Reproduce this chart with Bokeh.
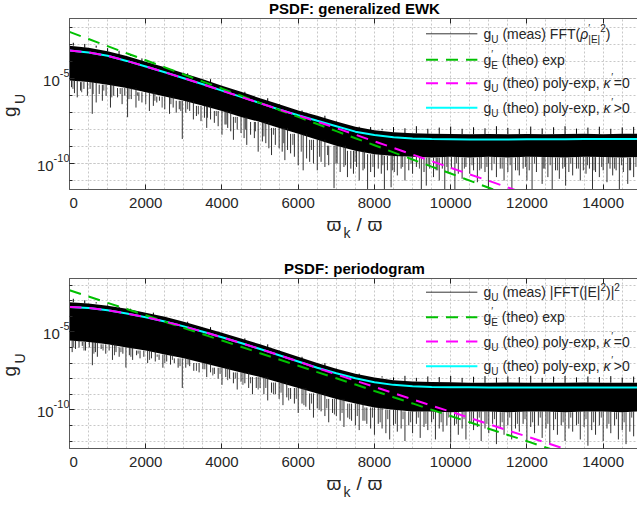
import math
from bokeh.plotting import figure
from bokeh.models import Range1d, LinearAxis, FixedTicker, Label, CustomJSTickFormatter
from bokeh.layouts import column, row
from bokeh.embed import file_html
from bokeh.resources import INLINE

FONT = "Liberation Sans"
INK = "#262626"

# ---------------- data (log10 of g) ----------------
x_ticks = [0, 2000, 4000, 6000, 8000, 10000, 12000, 14000]
curve_x = [i * 500 for i in range(31)]

# top panel: generalized EWK
top_cyan = [-3.33, -3.45, -3.65, -3.95, -4.28, -4.62, -4.97, -5.33, -5.7, -6.07, -6.44, -6.81, -7.15,
            -7.48, -7.8, -8.12, -8.32, -8.45, -8.52, -8.56, -8.57, -8.58, -8.58, -8.58, -8.57, -8.57,
            -8.57, -8.56, -8.56, -8.56, -8.55]
top_magenta = [-3.33, -3.45, -3.65, -3.95, -4.28, -4.62, -4.97, -5.33, -5.7, -6.07, -6.44, -6.81, -7.17,
               -7.53, -7.91, -8.3, -8.69, -9.08, -9.47, -9.86, -10.25, -10.64, -11.02, -11.41, -11.8]
top_green = [-2.24, -2.66, -3.08, -3.5, -3.91, -4.33, -4.75, -5.17, -5.58, -6.0, -6.42, -6.84, -7.25,
             -7.67, -8.09, -8.51, -8.92, -9.34, -9.76, -10.18, -10.59, -11.01, -11.43, -11.85]
top_band_hi = [-3.05, -3.17, -3.38, -3.66, -4.0, -4.32, -4.68, -5.03, -5.42, -5.77, -6.15, -6.5, -6.87,
               -7.18, -7.52, -7.83, -8.04, -8.16, -8.22, -8.25, -8.26, -8.27, -8.26, -8.28, -8.26, -8.27,
               -8.26, -8.25, -8.27, -8.25, -8.25]
top_band_lo = [-5.1, -5.2, -5.35, -5.55, -5.8, -6.05, -6.3, -6.6, -6.9, -7.25, -7.55, -7.9, -8.25,
               -8.6, -8.95, -9.25, -9.45, -9.55, -9.6, -9.65, -9.6, -9.65, -9.6, -9.65, -9.6, -9.62,
               -9.65, -9.6, -9.62, -9.65, -9.6]
top_drop_x = [53, 130, 203, 290, 378, 470, 540, 597, 700, 780, 862, 960,
              1075, 1160, 1260, 1380, 1450, 1524, 1620, 1744, 1820, 1900,
              2096, 2200, 2290, 2360, 2500, 2624, 2720, 2800, 2880, 2959,
              3050, 3153, 3250, 3330, 3450, 3540, 3600, 3700, 3800, 3900,
              4000, 4080, 4150, 4230, 4300, 4400, 4500, 4580, 4650, 4750, 4850, 4950,
              5060, 5150, 5230, 5300, 5400, 5500, 5580, 5650, 5720, 5800, 5900, 6000,
              6130, 6220, 6300, 6400, 6500, 6600, 6700, 6800, 6940,
              7020, 7100, 7200, 7292, 7380, 7450, 7530, 7600, 7700, 7820, 7900,
              8000, 8100, 8180, 8261, 8340, 8437, 8520, 8600, 8700, 8800, 8900,
              9000, 9100, 9230, 9300, 9360, 9450, 9550, 9620, 9700, 9780, 9845, 9930,
              10020, 10110, 10200, 10300, 10400, 10500, 10600, 10700, 10800, 10900, 10990,
              11080, 11200, 11300, 11400, 11500, 11606, 11700, 11800, 11900,
              12000, 12060, 12135, 12250, 12399, 12470, 12550, 12663, 12750, 12850, 12940,
              13016, 13100, 13200, 13300, 13400, 13480, 13550, 13640, 13720, 13800, 13900,
              14000, 14100, 14180, 14250, 14340, 14425, 14530, 14645, 14720, 14800]
top_drop_lo = [-5.5, -5.85, -6.1, -5.7, -5.6, -6.0, -5.6, -7.07, -6.4, -5.9, -6.3, -6.0,
               -6.7, -6.0, -6.1, -6.5, -6.0, -7.27, -6.2, -6.7, -6.3, -6.4,
               -6.9, -6.6, -6.4, -6.3, -6.8, -7.07, -6.7, -7.0, -6.8, -8.55,
               -7.0, -6.9, -7.4, -7.2, -7.5, -7.3, -7.9, -7.4, -7.6, -7.8,
               -8.3, -7.7, -7.9, -8.1, -8.6, -8.0, -8.2, -8.5, -8.9, -8.3, -8.5, -9.3,
               -8.7, -8.8, -9.1, -9.5, -8.9, -9.1, -9.3, -9.8, -9.2, -9.4, -9.6, -10.1,
               -10.4, -9.7, -9.9, -10.0, -10.4, -9.9, -10.2, -10.1, -11.45,
               -10.0, -10.5, -10.2, -10.8, -10.3, -10.6, -10.2, -11.0, -10.4, -11.5, -10.5,
               -10.8, -10.3, -10.6, -11.5, -10.4, -11.4, -10.5, -10.7, -10.3, -11.0, -10.4,
               -10.6, -10.2, -11.5, -10.5, -11.3, -10.3, -10.8, -10.4, -11.0, -10.3, -11.5, -10.5,
               -10.3, -11.5, -10.6, -10.9, -10.2, -10.6, -10.4, -11.1, -10.3, -10.5, -11.5,
               -10.4, -10.8, -10.3, -11.0, -10.5, -11.5, -10.4, -10.7, -10.3,
               -11.0, -10.4, -11.5, -10.5, -11.2, -10.3, -10.8, -11.5, -10.4, -10.9, -10.3,
               -11.3, -10.5, -10.7, -10.3, -11.0, -10.4, -10.6, -10.3, -11.5, -10.5, -10.8,
               -10.4, -11.1, -10.3, -10.7, -10.4, -11.5, -10.5, -11.2, -10.4, -10.8]
top_dip_x = [90, 320, 620, 900, 1110, 1330, 1560, 1780, 2000, 2240, 2430, 2660, 2920, 3100, 3380,
             3620, 3850, 4110, 4350, 4620, 4880, 5100, 5350, 5620, 5860, 6080, 6350, 6560, 6770,
             6990, 7240, 7490, 7740, 7960, 8220, 8470, 8740, 8960, 9180, 9410, 9660, 9900, 10150,
             10360, 10560, 10760, 10950, 11140, 11350, 11560, 11760, 11960, 12200, 12430, 12610,
             12800, 12990, 13150, 13350, 13590, 13760, 13960, 14140, 14300, 14480, 14690, 14860]
top_dip_lo = [-5.6, -5.8, -5.9, -5.7, -6.1, -5.9, -6.2, -6.0, -6.5, -6.3, -6.7, -6.5, -6.9, -6.8,
              -7.1, -7.3, -7.2, -7.7, -7.6, -8.0, -8.1, -8.4, -8.3, -8.8, -8.9, -9.3, -9.2, -9.6,
              -9.5, -10.0, -10.1, -9.9, -10.3, -10.2, -10.1, -10.4, -10.2, -10.0, -10.3, -10.1,
              -10.4, -10.2, -10.0, -10.3, -10.1, -10.4, -10.2, -10.0, -10.3, -10.1, -10.4, -10.2,
              -10.0, -10.3, -10.1, -10.4, -10.2, -10.0, -10.3, -10.1, -10.4, -10.2, -10.0, -10.3,
              -10.1, -10.4, -10.2]
top_peak_x = [100, 400, 700, 1000, 1300, 1600, 1900, 2200, 2500, 2800, 3100, 3400, 3700, 4000,
              4300, 4600, 4900, 5200, 5500, 5800, 6100, 6400, 6700, 7000, 7300, 7600, 7900, 8200,
              8500, 8800, 9100, 9400, 9700, 10000, 10300, 10600, 10900, 11200, 11500, 11800,
              12100, 12400, 12700, 13000, 13300, 13600, 13900, 14200, 14500, 14800]
top_peak_hi = [-2.88, -2.95, -3.05, -3.2, -3.35, -3.55, -3.8, -4.05, -4.3, -4.6, -4.85, -5.15, -5.42,
               -5.78, -6.0, -6.32, -6.55, -6.9, -7.1, -7.42, -7.58, -7.9, -8.02, -8.0, -7.98, -7.9,
               -7.85, -7.95, -7.85, -7.92, -7.8, -7.95, -7.88, -7.82, -7.95, -7.86, -7.92, -7.8,
               -7.9, -7.95, -7.82, -7.93, -7.86, -7.8, -7.94, -7.88, -7.83, -7.95, -7.87, -7.84]

# bottom panel: periodogram
bot_cyan = [-3.4, -3.47, -3.62, -3.82, -4.06, -4.34, -4.65, -4.99, -5.35, -5.72, -6.1, -6.5, -6.9,
            -7.3, -7.66, -7.98, -8.23, -8.4, -8.49, -8.53, -8.55, -8.56, -8.57, -8.57, -8.57, -8.57,
            -8.57, -8.57, -8.57, -8.57, -8.57]
bot_magenta = [-3.4, -3.47, -3.62, -3.82, -4.06, -4.34, -4.65, -4.99, -5.35, -5.72, -6.1, -6.5, -6.9,
               -7.32, -7.73, -8.13, -8.53, -8.93, -9.33, -9.73, -10.12, -10.52, -10.92, -11.32,
               -11.71, -12.11, -12.51]
bot_green = [-2.33, -2.73, -3.14, -3.54, -3.94, -4.35, -4.75, -5.15, -5.56, -5.96, -6.37, -6.77, -7.17,
             -7.58, -7.98, -8.38, -8.79, -9.19, -9.59, -10.0, -10.4, -10.8, -11.21, -11.61, -12.01,
             -12.42, -12.82]
bot_band_hi = [-3.1, -3.18, -3.32, -3.52, -3.77, -4.04, -4.35, -4.7, -5.06, -5.42, -5.8, -6.2, -6.6,
               -7.0, -7.36, -7.68, -7.93, -8.1, -8.18, -8.22, -8.24, -8.26, -8.27, -8.25, -8.27, -8.26,
               -8.27, -8.25, -8.26, -8.27, -8.26]
bot_band_lo = [-5.55, -5.65, -5.8, -6.0, -6.2, -6.45, -6.7, -7.0, -7.3, -7.6, -7.9, -8.25, -8.6,
               -8.95, -9.3, -9.6, -9.85, -10.0, -10.1, -10.1, -10.15, -10.1, -10.1, -10.15, -10.1,
               -10.1, -10.15, -10.1, -10.1, -10.15, -10.1]
bot_drop_x = [70, 158, 250, 335, 420, 520, 600, 680, 731, 830, 951,
              1040, 1127, 1220, 1303, 1400, 1480, 1570, 1656, 1760, 1850, 1950,
              2050, 2150, 2250, 2350, 2450, 2550, 2650, 2750, 2850, 2959,
              3050, 3153, 3260, 3400, 3500, 3600, 3700, 3800, 3900,
              4000, 4100, 4200, 4300, 4400, 4500, 4600, 4700, 4800, 4900,
              5000, 5100, 5200, 5300, 5400, 5500, 5600, 5700, 5800, 5900,
              6000, 6100, 6200, 6300, 6400, 6500, 6600, 6700, 6800, 6900,
              7000, 7100, 7200, 7300, 7400, 7500, 7600, 7700, 7800, 7900,
              8000, 8100, 8200, 8300, 8400, 8500, 8600, 8700, 8800, 8900,
              9000, 9100, 9200, 9300, 9400, 9500, 9600, 9700, 9800, 9900,
              10000, 10100, 10200, 10300, 10400, 10500, 10600, 10700, 10800, 10900,
              11000, 11100, 11200, 11300, 11400, 11500, 11600, 11700, 11800, 11900,
              12000, 12100, 12200, 12300, 12400, 12500, 12600, 12700, 12800, 12900,
              13000, 13100, 13200, 13300, 13400, 13500, 13600, 13700, 13800, 13900,
              14000, 14100, 14200, 14300, 14400, 14500, 14600, 14700, 14800]
bot_drop_lo = [-6.3, -6.1, -6.0, -5.9, -6.2, -6.0, -7.14, -6.3, -6.6, -6.1, -6.4,
               -6.2, -6.8, -6.3, -6.6, -6.4, -7.29, -6.5, -6.8, -6.5, -6.7, -6.6,
               -7.0, -6.7, -6.9, -6.8, -7.3, -6.9, -7.1, -7.0, -7.3, -8.6,
               -7.3, -7.2, -7.5, -7.6, -7.4, -7.9, -7.6, -7.7, -8.0,
               -8.4, -7.9, -8.0, -8.3, -8.7, -8.2, -8.3, -8.6, -9.0, -8.6,
               -8.6, -9.0, -9.4, -8.9, -9.0, -9.3, -9.7, -9.2, -9.3, -9.6,
               -10.2, -9.6, -9.8, -10.0, -10.5, -9.9, -10.1, -10.4, -10.8, -10.2,
               -10.4, -10.7, -11.1, -10.5, -10.7, -11.0, -11.3, -10.7, -10.9, -11.2,
               -11.6, -10.9, -11.2, -11.5, -11.9, -11.0, -11.4, -11.2, -12.0, -11.0,
               -11.5, -10.9, -11.8, -11.1, -11.3, -10.8, -11.9, -11.2, -11.4, -11.0,
               -12.1, -11.0, -11.6, -11.2, -11.9, -10.9, -11.3, -11.1, -12.0, -11.2,
               -11.5, -10.9, -12.2, -11.1, -11.6, -11.0, -11.9, -11.2, -11.4, -10.9,
               -12.1, -11.1, -11.5, -11.0, -11.8, -11.2, -12.2, -11.3, -11.6, -11.0,
               -12.0, -11.2, -11.4, -11.0, -11.9, -11.1, -12.3, -11.3, -11.6, -11.0,
               -12.0, -11.2, -11.5, -11.0, -11.9, -11.3, -12.2, -11.4, -11.7]
bot_dip_x = [110, 380, 640, 880, 1180, 1350, 1610, 1800, 2100, 2300, 2500, 2700, 2900, 3110, 3330,
             3550, 3760, 3950, 4150, 4350, 4550, 4750, 4950, 5150, 5350, 5550, 5750, 5950, 6150,
             6350, 6550, 6750, 6950, 7150, 7350, 7550, 7750, 7950, 8150, 8350, 8550, 8750, 8950,
             9150, 9350, 9550, 9750, 9950, 10150, 10350, 10550, 10750, 10950, 11150, 11350, 11550,
             11750, 11950, 12150, 12350, 12550, 12750, 12950, 13150, 13350, 13550, 13750, 13950,
             14150, 14350, 14550, 14750]
bot_dip_lo = [-6.0, -6.2, -6.4, -6.2, -6.5, -6.3, -6.6, -6.4, -6.8, -6.6, -7.0, -6.8, -7.2, -7.1,
              -7.5, -7.4, -7.8, -7.7, -8.1, -8.0, -8.4, -8.3, -8.7, -8.6, -9.0, -8.9, -9.4, -9.3,
              -9.7, -9.6, -10.0, -9.9, -10.3, -10.2, -10.6, -10.4, -10.7, -10.5, -10.8, -10.6,
              -10.9, -10.6, -10.8, -10.5, -10.9, -10.6, -10.8, -10.5, -10.9, -10.6, -10.8, -10.5,
              -10.9, -10.6, -10.8, -10.5, -10.9, -10.6, -10.8, -10.5, -10.9, -10.6, -10.8, -10.5,
              -10.9, -10.6, -10.8, -10.5, -10.9, -10.6, -10.8, -10.5]
bot_peak_x = top_peak_x
bot_peak_hi = [-2.88, -2.98, -3.1, -3.25, -3.4, -3.6, -3.82, -4.05, -4.3, -4.55, -4.85, -5.12, -5.45,
               -5.75, -6.08, -6.38, -6.75, -7.02, -7.35, -7.65, -7.82, -8.0, -7.95, -7.98, -7.92,
               -7.88, -7.95, -7.85, -7.92, -7.82, -7.95, -7.86, -7.9, -7.83, -7.95, -7.88, -7.84,
               -7.93, -7.86, -7.9, -7.82, -7.95, -7.87, -7.83, -7.92, -7.86, -7.9, -7.84, -7.93, -7.87]

# approximate advance widths (em) of Liberation Sans glyphs
ADV = {' ': .278, '(': .333, ')': .333, '|': .26, '-': .333, ',': .278, '=': .584, '>': .584,
       '/': .278, ':': .278, "'": .191, '\u2032': .25, '\u03c1': .58, '\u03ba': .55, '\u03d6': .75}
ADV.update({d: .556 for d in "0123456789"})
ADV.update(dict(zip("abcdefghijklmnopqrstuvwxyz",
                    [.556, .556, .5, .556, .556, .278, .556, .556, .222, .222, .5, .222, .833, .556,
                     .556, .556, .556, .333, .5, .278, .556, .5, .722, .5, .5, .5])))
ADV.update({'A': .667, 'E': .667, 'F': .611, 'K': .667, 'P': .667, 'S': .667, 'T': .611,
            'U': .722, 'W': .944, 'D': .722})

AXIS_GAP = 4      # width Bokeh keeps for the label-less y axis


def text_width(s, size):
    return sum(ADV.get(c, .556) for c in s) * size


def put(p, x, y, text, size, color=INK, style="normal", align="left", angle=0.0):
    # (x, y) is the baseline anchor; the label is placed by its middle line
    if angle == 0:
        y -= 0.35 * size
    else:
        x -= 0.35 * size
    p.add_layout(Label(x=x, y=y, x_units="canvas", y_units="canvas", text=text,
                       text_font=FONT, text_font_size=f"{size}px", text_color=color,
                       text_font_style=style, text_align=align, text_baseline="middle",
                       angle=angle))


def rich(p, x, y, pieces):
    # pieces: (text, size, dy, advance, style); leading blanks become an advance
    for text, size, dy, adv, style in pieces:
        lead = len(text) - len(text.lstrip(' '))
        x += lead * ADV[' '] * size
        body = text.lstrip(' ')
        put(p, x, y + dy, body, size, style=style)
        if adv:
            x += text_width(body, size)


def strip(w, h):
    s = figure(width=w, height=h, x_range=Range1d(0, w), y_range=Range1d(0, h),
               x_axis_type=None, y_axis_type=None, output_backend="svg", toolbar_location=None,
               min_border=0)
    s.outline_line_color = None
    return s


def panel(title, ytop, ybot, head, frame_h, height, cyan, magenta, green,
          band_hi, band_lo, drops, peaks, meas_label):
    left, frame_w = 73, 564
    foot = 26
    xmax = frame_w / 75.7 * 2000
    p = figure(width=frame_w + AXIS_GAP, height=frame_h + foot, y_axis_type="log",
               x_range=Range1d(0, xmax), y_range=Range1d(10 ** ybot, 10 ** ytop),
               output_backend="svg", toolbar_location=None,
               min_border_left=0, min_border_right=0, min_border_top=0, min_border_bottom=foot)
    p.outline_line_color = None

    # axes: ticks point inward, box-style top axis without labels
    p.xaxis.ticker = FixedTicker(ticks=x_ticks)
    p.xaxis.major_label_text_font = FONT
    p.xaxis.major_label_text_font_size = "15px"
    p.xaxis.major_label_text_color = INK
    p.xaxis.major_label_standoff = 8
    p.yaxis.ticker = FixedTicker(ticks=[1e-10, 1e-5], minor_ticks=[10.0 ** k for k in range(-13, 0)])
    p.yaxis.formatter = CustomJSTickFormatter(code="return ''")
    p.yaxis.major_label_standoff = 0
    p.yaxis.major_label_text_font_size = "0px"
    for ax in (p.xaxis[0], p.yaxis[0]):
        ax.axis_line_color = "#5a5a5a"
        ax.major_tick_line_color = INK
        ax.minor_tick_line_color = INK
        ax.major_tick_in = 5
        ax.major_tick_out = 0
        ax.minor_tick_in = 0
        ax.minor_tick_out = 0
    p.yaxis.minor_tick_in = 3
    top_ax = LinearAxis(ticker=FixedTicker(ticks=x_ticks),
                        formatter=CustomJSTickFormatter(code="return ''"),
                        axis_line_color="#5a5a5a", major_tick_line_color=INK,
                        major_tick_in=5, major_tick_out=0, minor_tick_in=0, minor_tick_out=0,
                        major_label_standoff=0, major_label_text_font_size="0px")
    p.add_layout(top_ax, "above")

    for g in (p.xgrid[0], p.ygrid[0]):
        g.grid_line_color = "#c8c8c8"
        g.grid_line_dash = "2 2"
        g.minor_grid_line_color = "#c8c8c8"
        g.minor_grid_line_dash = "2 2"
    p.xgrid.ticker = FixedTicker(ticks=list(range(0, 15001, 500)))

    # measured spectrum: dense band, dropouts below and peaks above
    p.varea(x=curve_x[:len(band_hi)], y1=[10 ** v for v in band_lo], y2=[10 ** v for v in band_hi],
            fill_color="black")

    def near(arr, xv):
        return 10 ** arr[min(int(round(xv / 500)), len(arr) - 1)]

    for (xs, ys), col, lw in zip(drops, ("#1a1a1a", "#222222"), (0.9, 0.8)):
        p.segment(x0=xs, y0=[near(band_lo, v) for v in xs], x1=xs,
                  y1=[10 ** v for v in ys], line_color=col, line_width=lw)
    p.segment(x0=peaks[0], y0=[near(band_hi, v) for v in peaks[0]], x1=peaks[0],
              y1=[10 ** v for v in peaks[1]], line_color="black", line_width=1)

    # theory curves
    p.line(curve_x[:len(cyan)], [10 ** v for v in cyan], line_color="#00ffff", line_width=2)
    p.line(curve_x[:len(green)], [10 ** v for v in green], line_color="#00c000", line_width=2,
           line_dash="12 8")
    p.line(curve_x[:len(magenta)], [10 ** v for v in magenta], line_color="#ff00ff", line_width=2,
           line_dash="12 8")

    # legend keys, placed in frame pixels (canvas x = frame x + AXIS_GAP)
    def dx(px):
        return px / frame_w * xmax

    def dy(py):
        return 10 ** (ytop - py / frame_h * (ytop - ybot))

    rows = [15.3, 41.3, 64.7, 89.3] if head < 20 else [13.7, 38.7, 63.0, 87.7]
    keys = [("black", 0.8, "solid"), ("#00c000", 2, "12 8"), ("#ff00ff", 2, "12 8"), ("#00ffff", 2, "solid")]
    for ry, (c, w, d) in zip(rows, keys):
        p.line([dx(354), dx(405)], [dy(ry), dy(ry)], line_color=c, line_width=w, line_dash=d)

    tx = 410 + AXIS_GAP
    rich(p, tx, rows[0] + 5, meas_label)
    rich(p, tx, rows[1] + 5, [("g", 14, 0, True, "normal"), ("\u2032", 10, -7, False, "normal"),
                             ("E", 10, 4, True, "normal"), (" (theo) exp", 14, 0, True, "normal")])
    for r, rel in ((2, "=0"), (3, ">0")):
        rich(p, tx, rows[r] + 5, [("g", 14, 0, True, "normal"), ("U", 10, 4, True, "normal"),
                                 (" (theo) poly-exp,", 14, 0, True, "normal"),
                                 (" \u03ba", 14, 0, True, "italic"),
                                 ("\u2032", 10, -7, True, "normal"), (rel, 14, 0, True, "normal")])

    # left strip: y tick labels and y label
    lw_ = left - AXIS_GAP
    ls = strip(lw_, height)
    for k in (-5, -10):
        ty = head + (ytop - k) / (ytop - ybot) * frame_h
        sup = str(k)
        sw = text_width(sup, 11)
        put(ls, 69 - sw, ty - 1.5, sup, 11)
        put(ls, 69 - sw, ty + 7.7, "10", 15, align="right")
    cy = head + frame_h / 2
    put(ls, 15.5, cy + 13, "g", 19, angle=math.pi / 2)
    put(ls, 24, cy, "U", 14, angle=math.pi / 2)

    # top strip: title
    tw = frame_w + AXIS_GAP
    ts = strip(tw, head)
    put(ts, AXIS_GAP + frame_w / 2 - 1, head - 4.3, title, 15, color="black", style="bold",
        align="center")

    # bottom strip: x label
    bh = height - head - frame_h - foot
    bs = strip(tw, bh)
    base = 42 - foot
    xl = 326 - lw_
    put(bs, xl, base, "\u03d6", 19)
    put(bs, xl + 17, base + 6, "k", 14)
    put(bs, xl + 30, base, "/", 19)
    put(bs, xl + 41, base, "\u03d6", 19)

    return row(ls, column(ts, p, bs, spacing=0), spacing=0)


meas_top = [("g", 14, 0, True, "normal"), ("U", 10, 4, True, "normal"),
            (" (meas) FFT(", 14, 0, True, "normal"), ("\u03c1", 14, 0, True, "italic"),
            ("\u2032", 10, -7, False, "normal"), ("|E|", 10, 4, True, "normal"),
            ("2", 10, -7, True, "normal"), (")", 14, 0, True, "normal")]
meas_bot = [("g", 14, 0, True, "normal"), ("U", 10, 4, True, "normal"),
            (" (meas) |FFT(|E|", 14, 0, True, "normal"), ("2", 10, -7, True, "normal"),
            (")|", 14, 0, True, "normal"), ("2", 10, -7, True, "normal")]

p1 = panel("PSDF: generalized EWK", -1.45, -11.53, 18, 171, 254, top_cyan, top_magenta, top_green,
           top_band_hi, top_band_lo,
           [(top_drop_x, top_drop_lo), (top_dip_x, top_dip_lo)], (top_peak_x, top_peak_hi), meas_top)
p2 = panel("PSDF: periodogram", -1.58, -12.48, 24, 170, 254, bot_cyan, bot_magenta, bot_green,
           bot_band_hi, bot_band_lo,
           [(bot_drop_x, bot_drop_lo), (bot_dip_x, bot_dip_lo)], (bot_peak_x, bot_peak_hi), meas_bot)

layout = column(p1, p2, spacing=0)
open("out.html", "w").write(file_html(layout, INLINE))
